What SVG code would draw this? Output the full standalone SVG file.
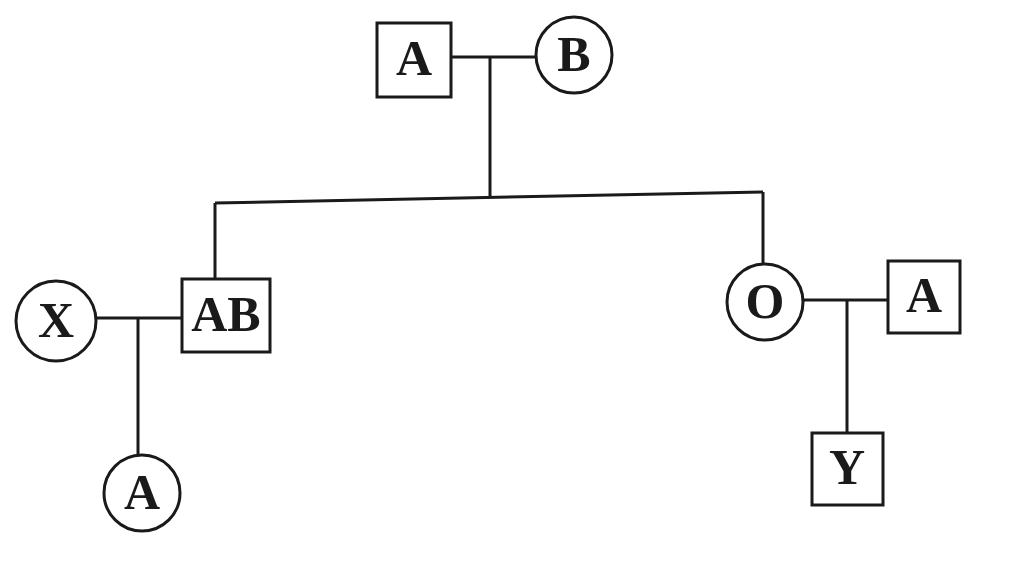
<svg xmlns="http://www.w3.org/2000/svg" width="1024" height="583" viewBox="0 0 1024 583">
<style>
.n{fill:#fff;stroke:#1a1a1a;stroke-width:3}
.c{fill:none;stroke:#1a1a1a;stroke-width:3}
.t{font-family:"Liberation Serif","Times New Roman",serif;font-size:50px;font-weight:bold;fill:#1a1a1a;text-anchor:middle;dominant-baseline:central}
</style>
<rect width="1024" height="583" fill="#fff"/>
<g id="connectors">
<line class="c" x1="451" y1="57" x2="536" y2="57"/>
<line class="c" x1="490" y1="57" x2="490" y2="197"/>
<line class="c" x1="215" y1="203" x2="763" y2="192"/>
<line class="c" x1="215" y1="203" x2="215" y2="278"/>
<line class="c" x1="763" y1="192" x2="763" y2="264"/>
<line class="c" x1="97" y1="318" x2="182" y2="318"/>
<line class="c" x1="138" y1="318" x2="138" y2="455"/>
<line class="c" x1="803" y1="300" x2="888" y2="300"/>
<line class="c" x1="847" y1="300" x2="847" y2="433"/>
</g>
<g id="father-A"><rect class="n" x="377" y="23" width="74" height="74"/><text class="t" x="414" y="58">A</text></g>
<g id="mother-B"><circle class="n" cx="574" cy="55" r="38"/><text class="t" x="574" y="54">B</text></g>
<g id="son-AB"><rect class="n" x="182" y="279" width="88" height="73"/><text class="t" x="226" y="314">AB</text></g>
<g id="wife-X"><circle class="n" cx="56" cy="321" r="40"/><text class="t" x="56" y="320">X</text></g>
<g id="child-A"><circle class="n" cx="142" cy="493" r="38"/><text class="t" x="142" y="492">A</text></g>
<g id="daughter-O"><circle class="n" cx="765" cy="302" r="38"/><text class="t" x="765" y="301">O</text></g>
<g id="husband-A"><rect class="n" x="888" y="261" width="72" height="72"/><text class="t" x="924" y="295">A</text></g>
<g id="child-Y"><rect class="n" x="812" y="433" width="71" height="72"/><text class="t" x="847" y="467">Y</text></g>
</svg>
